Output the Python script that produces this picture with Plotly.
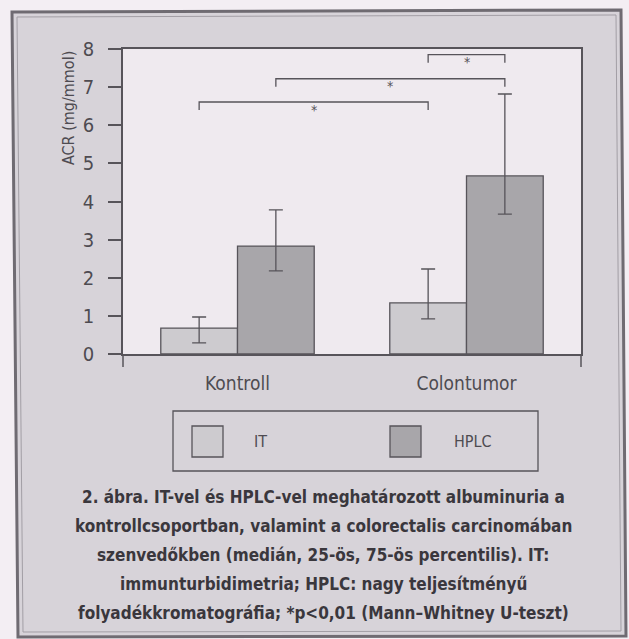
import plotly.graph_objects as go

# ---- data -------------------------------------------------------------
categories = ["Kontroll", "Colontumor"]
series_names = ["IT", "HPLC"]

it_median = [0.68, 1.34]
it_q25 = [0.29, 0.92]
it_q75 = [0.97, 2.23]

hplc_median = [2.83, 4.67]
hplc_q25 = [2.18, 3.67]
hplc_q75 = [3.78, 6.82]

y_ticks = [0, 1, 2, 3, 4, 5, 6, 7, 8]
y_title = "ACR (mg/mmol)"

# significance brackets: (group a, series a), (group b, series b), height
sig_pairs = [
    ((0, "IT"), (1, "IT"), 6.61),
    ((0, "HPLC"), (1, "HPLC"), 7.22),
    ((1, "IT"), (1, "HPLC"), 7.85),
]
sig_label = "*"

caption_lines = [
    "2. ábra. IT-vel és HPLC-vel meghatározott albuminuria a",
    "kontrollcsoportban, valamint a colorectalis carcinomában",
    "szenvedőkben (medián, 25-ös, 75-ös percentilis). IT:",
    "immunturbidimetria; HPLC: nagy teljesítményű",
    "folyadékkromatográfia; *p<0,01 (Mann–Whitney U-teszt)",
]

# ---- styling / layout constants -------------------------------------
W, H = 629, 639
L, R, T, B = 123, 48, 49, 285
PW, PH = W - L - R, H - T - B

FONT = "DejaVu Sans Condensed, Liberation Sans Narrow, sans-serif"
OUTER_BG = "#f3eef3"
FRAME_BG = "#d7d3d9"
PLOT_BG = "#efeaef"
LINE = "#57545a"
TEXT = "#4e4b51"
CAPTION = "#3a373d"
IT_FILL = "#cdcbcf"
HPLC_FILL = "#a8a6aa"

BARGAP = 0.33
BAR_W = (1 - BARGAP) / 2


def px_x(px):
    return (px - L) / PW


def px_y(py):
    return (H - B - py) / PH


x_pos = list(range(len(categories)))
fills = {"IT": IT_FILL, "HPLC": HPLC_FILL}
stats = {
    "IT": (it_median, it_q25, it_q75),
    "HPLC": (hplc_median, hplc_q25, hplc_q75),
}

fig = go.Figure()
for name in series_names:
    med, q25, q75 = stats[name]
    fig.add_trace(go.Bar(
        name=name,
        x=x_pos,
        y=med,
        marker=dict(color=fills[name], line=dict(color=LINE, width=1.3)),
        error_y=dict(
            type="data",
            symmetric=False,
            array=[hi - m for hi, m in zip(q75, med)],
            arrayminus=[m - lo for m, lo in zip(med, q25)],
            color=LINE,
            thickness=1.3,
            width=7,
        ),
        showlegend=False,
    ))

shapes = []
# page frame: light surround, grey panel, double border
frame = [(12, 12), (621, 10), (626, 636), (18, 637)]


def poly_path(pts, inset=0):
    cx = sum(p[0] for p in pts) / len(pts)
    cy = sum(p[1] for p in pts) / len(pts)
    out = []
    for i, (x, y) in enumerate(pts):
        dx = inset if x < cx else -inset
        dy = inset if y < cy else -inset
        out.append(("M" if i == 0 else "L") + f"{px_x(x + dx):.5f},{px_y(y + dy):.5f}")
    return " ".join(out) + " Z"


shapes.append(dict(type="path", xref="paper", yref="paper", layer="below",
                   path=poly_path(frame), fillcolor=FRAME_BG,
                   line=dict(color="#6f6b72", width=3)))
shapes.append(dict(type="path", xref="paper", yref="paper", layer="below",
                   path=poly_path(frame, 5), fillcolor="rgba(0,0,0,0)",
                   line=dict(color="#a29ea5", width=1)))
# plot area background
shapes.append(dict(type="rect", xref="paper", yref="paper", layer="below",
                   x0=0, x1=1, y0=0, y1=1, fillcolor=PLOT_BG, line=dict(width=0)))
# frame lines running past the baseline on both sides
for xe in (0, 1):
    shapes.append(dict(type="line", xref="paper", yref="paper",
                       x0=xe, x1=xe, y0=0, y1=-13 / PH,
                       line=dict(color=LINE, width=1.5)))


def bar_center(group, name):
    k = series_names.index(name)
    return group - BAR_W / 2 + k * BAR_W


annotations = []
LEG = 0.21
for (ga, sa), (gb, sb), level in sig_pairs:
    xa, xb = bar_center(ga, sa), bar_center(gb, sb)
    shapes.append(dict(
        type="path", xref="x", yref="y",
        path=f"M{xa},{level - LEG} L{xa},{level} L{xb},{level} L{xb},{level - LEG}",
        line=dict(color=LINE, width=1.3)))
    annotations.append(dict(
        x=(xa + xb) / 2, y=level - 0.2, xref="x", yref="y",
        text=sig_label, showarrow=False, yanchor="middle",
        font=dict(family=FONT, size=14, color=LINE)))

# legend box drawn as shapes
shapes.append(dict(type="rect", xref="paper", yref="paper",
                   x0=px_x(173), x1=px_x(538), y0=px_y(471), y1=px_y(411),
                   line=dict(color=LINE, width=1.3), fillcolor="rgba(0,0,0,0)"))
legend_items = [(192, 252), (390, 452)]
for name, (sx, tx) in zip(series_names, legend_items):
    shapes.append(dict(type="rect", xref="paper", yref="paper",
                       x0=px_x(sx), x1=px_x(sx + 31), y0=px_y(457), y1=px_y(426),
                       fillcolor=fills[name], line=dict(color=LINE, width=1.3)))
    annotations.append(dict(
        x=px_x(tx), y=px_y(441), xref="paper", yref="paper",
        text=name, showarrow=False, xanchor="left", yanchor="middle",
        font=dict(family=FONT, size=16, color=TEXT)))

# y-axis title
annotations.append(dict(
    x=px_x(68), y=px_y(49), xref="paper", yref="paper",
    text=y_title, textangle=-90, showarrow=False,
    xanchor="center", yanchor="top",
    font=dict(family=FONT, size=16, color=TEXT)))

# caption
for i, line in enumerate(caption_lines):
    annotations.append(dict(
        x=px_x(323), y=px_y(497 + 29 * i), xref="paper", yref="paper",
        text=f"<b>{line}</b>", showarrow=False,
        xanchor="center", yanchor="middle",
        font=dict(family=FONT, size=17, color=CAPTION)))

fig.update_layout(
    width=W, height=H,
    margin=dict(l=L, r=R, t=T, b=B, pad=0),
    paper_bgcolor=OUTER_BG,
    plot_bgcolor="rgba(0,0,0,0)",
    barmode="group",
    bargap=BARGAP,
    bargroupgap=0,
    showlegend=False,
    shapes=shapes,
    annotations=annotations,
    font=dict(family=FONT, color=TEXT),
)
fig.update_xaxes(
    range=[-0.5, 1.5], tickmode="array", tickvals=x_pos, ticktext=categories,
    showline=True, linecolor=LINE, linewidth=1.5, mirror=True,
    showgrid=False, zeroline=False, ticks="", ticklabelstandoff=11,
    tickfont=dict(family=FONT, size=19, color=TEXT), fixedrange=True,
)
fig.update_yaxes(
    range=[0, 8], tickmode="array", tickvals=y_ticks,
    showline=True, linecolor=LINE, linewidth=1.5, mirror=True,
    showgrid=False, zeroline=False, ticks="outside", ticklen=13,
    tickwidth=1.5, tickcolor=LINE, ticklabelstandoff=10,
    tickfont=dict(family=FONT, size=20, color=TEXT), fixedrange=True,
)

fig.write_html("out.html")
